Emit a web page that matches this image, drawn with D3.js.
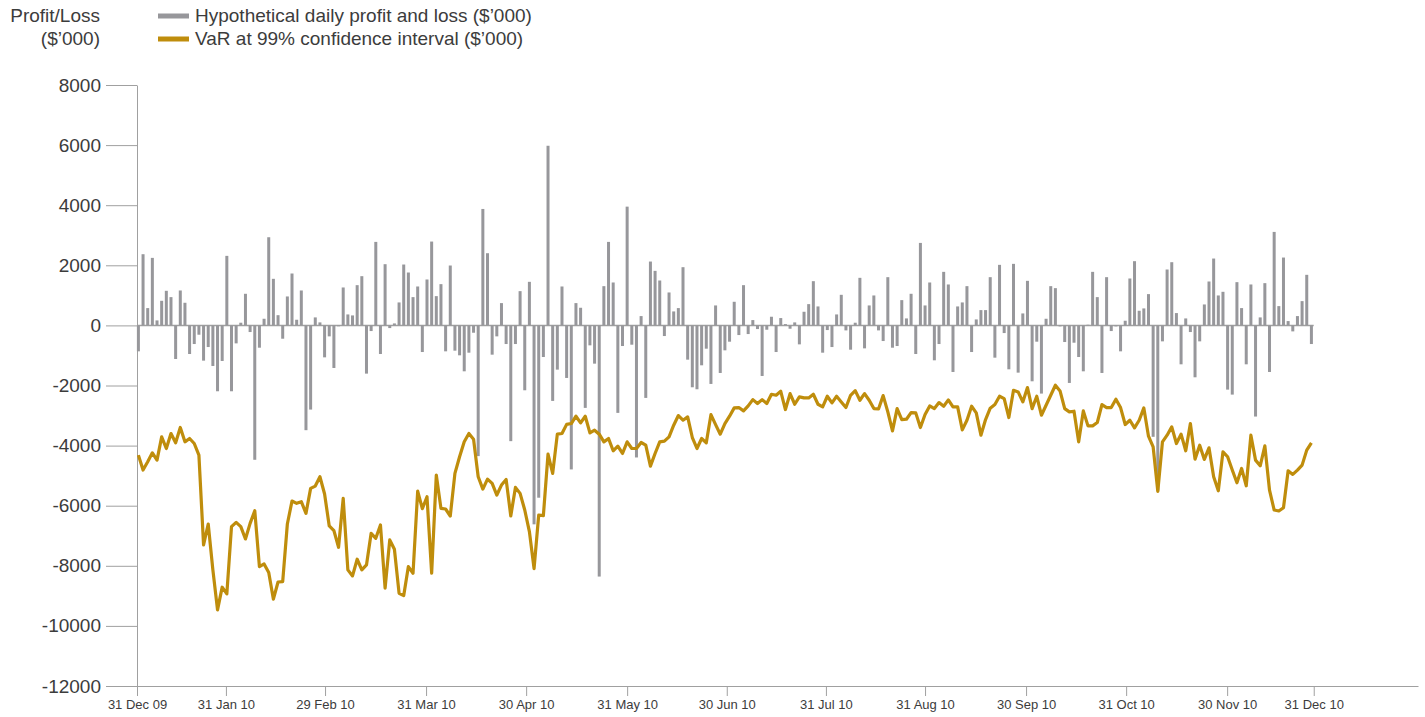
<!DOCTYPE html>
<html>
<head>
<meta charset="utf-8">
<script src="https://cdn.jsdelivr.net/npm/d3@7"></script>
<style>
  body { margin: 0; background: #fff; }
  text { font-family: "Liberation Sans", Arial, sans-serif; }
</style>
</head>
<body>
<div id="chart"></div>
<script>
// daily hypothetical P&L ($'000), one value per trading day
const pnl = [
  -863, 2369, 576, 2247, 166, 819, 1151, 941, -1118, 1162,
  753, -952, -620, -310, -1173, -720, -1350, -2192, -1184, 2314,
  -2192, -598, 89, 1052, -221, -4472, -742, 221, 2934, 1550,
  340, -443, 963, 1727, 188, 1162, -3487, -2801, 266, 100,
  -1063, -365, -1417, -30, 1262, 365, 332, 1339, 1638, -1605,
  -188, 2779, -952, 2037, -89, 66, 764, 2026, 1760, 941,
  1295, -886, 1528, 2790, 974, 1373, -863, 1993, -841, -996,
  -1528, -908, -244, -4350, 3875, 2402, -974, -365, 742, -620,
  -3852, -620, 1140, -2159, 1450, -6620, -5734, -1052, 5978, -2513,
  -1472, 1295, -1749, -4793, 742, 587, -2745, -664, -1273, -8358,
  1306, 2779, 1428, -2911, -686, 3952, -642, -4395, 310, -2413,
  2125, 1815, 1494, -354, 1096, 465, 576, 1937, -1140, -2059,
  -2125, -1328, -775, -1948, 664, -1583, -830, -542, 786, -321,
  1339, -288, 177, -122, -1683, -144, 288, -886, 244, 44,
  -111, 100, -631, 454, 708, 1472, 631, -908, -155, -720,
  365, 1018, -166, -808, 89, 1583, -764, 664, 996, -166,
  -520, 1605, -742, -686, 841, 232, 1052, -952, 2745, 664,
  1428, -1162, -620, 1782, 1362, -1550, 631, 764, 1306, -886,
  199, 509, 509, 1605, -1074, 2015, -255, -1461, 2048, -1572,
  398, 1483, -1860, -542, -2269, 221, 1306, 1240, -33, -553,
  -1915, -576, -1052, -1528, 22, 1782, 941, -1583, 1605, -188,
  -33, -863, 155, 1561, 2137, 487, 565, 1041, -3708, -5500,
  -531, 1860, 2103, 410, -1295, 232, -221, -1727, -531, 697,
  1461, 2225, 996, 1118, -2137, -2303, 1439, 576, -1295, 1362,
  -3033, 266, 1406, -1550, 3111, 642, 2258, 144, -199, 310,
  808, 1683, -620
]

// VaR at 99% ($'000)
const varValues = [
  -4317, -4815, -4539, -4240, -4483, -3708, -4096, -3598, -3908, -3398,
  -3875, -3764, -3930, -4317, -7306, -6609, -8136, -9465, -8712, -8934,
  -6698, -6554, -6698, -7107, -6587, -6166, -8026, -7937, -8225, -9111,
  -8540, -8524, -6609, -5845, -5922, -5867, -6255, -5424, -5347, -5037,
  -5612, -6675, -6830, -7384, -5756, -8136, -8336, -7782, -8136, -7970,
  -6919, -7085, -6642, -8745, -7140, -7450, -8912, -8989, -8026, -8247,
  -5513, -6100, -5701, -8247, -4981, -6089, -6110, -6343, -4926, -4372,
  -3875, -3598, -3786, -5037, -5447, -5114, -5258, -5645, -5314, -5125,
  -6343, -5391, -5590, -6144, -6863, -8092, -6310, -6332, -4284, -4926,
  -3620, -3598, -3294, -3266, -3022, -3244, -3022, -3576, -3487, -3620,
  -3875, -3764, -4173, -4018, -4262, -3875, -4096, -4096, -3897, -3985,
  -4683, -4262, -3875, -3852, -3708, -3321, -3000, -3155, -3044, -3731,
  -4096, -3764, -3908, -2970, -3300, -3620, -3266, -3022, -2745, -2734,
  -2845, -2679, -2469, -2601, -2469, -2601, -2291, -2325, -2192, -2801,
  -2269, -2624, -2380, -2413, -2413, -2291, -2624, -2712, -2358, -2579,
  -2358, -2546, -2734, -2325, -2170, -2491, -2269, -2491, -2768, -2779,
  -2336, -2878, -3509, -2768, -3133, -3122, -2900, -2911, -3398, -2967,
  -2679, -2768, -2568, -2690, -2480, -2712, -2712, -3476, -3155, -2690,
  -2911, -3653, -3133, -2756, -2635, -2358, -2435, -3066, -2159, -2214,
  -2546, -2070, -2768, -2358, -2989, -2657, -2325, -1993, -2181, -2768,
  -2878, -2856, -3875, -2845, -3343, -3343, -3232, -2635, -2734, -2734,
  -2458, -2734, -3299, -3155, -3410, -3155, -2745, -3686, -4040, -5524,
  -3875, -3653, -3376, -3930, -3620, -4173, -3266, -4450, -3985, -4461,
  -4074, -5037, -5502, -4207, -4372, -4815, -5236, -4760, -5336, -3653,
  -4483, -4672, -4007, -5480, -6144, -6177, -6066, -4837, -4959, -4815,
  -4650, -4151, -3908
]

// month-end ticks, placed in trading-day units
const tickLabels = ["31 Dec 09", "31 Jan 10", "29 Feb 10", "31 Mar 10", "30 Apr 10", "31 May 10",
  "30 Jun 10", "31 Jul 10", "31 Aug 10", "30 Sep 10", "31 Oct 10", "30 Nov 10", "31 Dec 10"]
const tickDays = [-0.3, 18.8, 40.1, 61.8, 83.3, 105, 126.4, 147.7, 169, 190.7, 212.2, 233.9, 252.5]
const yTicks = [8000, 6000, 4000, 2000, 0, -2000, -4000, -6000, -8000, -10000, -12000]

const legendLabels = ["Hypothetical daily profit and loss ($\u2019000)", "VaR at 99% confidence interval ($\u2019000)"]

const barColor = "#97979b"
const lineColor = "#bf8d0c"
const axisColor = "#a0a0a0"
const textColor = "#3c3c3c"

const width = 1425
const height = 717
const margin = { top: 85, right: 7, bottom: 31, left: 137 }

const svg = d3.select("#chart")
  .append("svg")
  .attr("width", width)
  .attr("height", height)

const xScale = d3.scaleLinear()
  .domain([-0.3, 274.9])
  .range([margin.left, width - margin.right])

const yScale = d3.scaleLinear()
  .domain([-12000, 8000])
  .range([height - margin.bottom, margin.top])

// y axis (plain hyphen minus like the original)
const yAxisGen = d3.axisLeft(yScale)
  .tickValues(yTicks)
  .tickFormat(d => String(d))
  .tickSize(31)
  .tickSizeOuter(0)
  .tickPadding(5)
const yAxis = svg.append("g")
  .attr("transform", `translate(${margin.left},0)`)
  .call(yAxisGen)
yAxis.select(".domain").attr("stroke", axisColor)
yAxis.selectAll(".tick line").attr("stroke", axisColor)
yAxis.selectAll(".tick text")
  .attr("fill", textColor)
  .style("font-size", "19px")
  .style("font-family", "Liberation Sans, Arial, sans-serif")

// x axis
const xAxisGen = d3.axisBottom(xScale)
  .tickValues(tickDays)
  .tickFormat((d, i) => tickLabels[i])
  .tickSize(10)
  .tickSizeOuter(0)
  .tickPadding(4)
const xAxis = svg.append("g")
  .attr("transform", `translate(0,${yScale(-12000)})`)
  .call(xAxisGen)
xAxis.select(".domain").attr("stroke", axisColor)
xAxis.selectAll(".tick line").attr("stroke", axisColor)
xAxis.selectAll(".tick text")
  .attr("fill", textColor)
  .style("font-size", "13px")
  .style("font-family", "Liberation Sans, Arial, sans-serif")

// zero line
svg.append("line")
  .attr("x1", xScale(-0.3))
  .attr("x2", xScale(pnl.length - 0.5))
  .attr("y1", yScale(0))
  .attr("y2", yScale(0))
  .attr("stroke", axisColor)
  .attr("stroke-width", 1.5)

// bars
svg.append("g")
  .selectAll("rect")
  .data(pnl)
  .join("rect")
  .attr("x", (d, i) => xScale(i) - 1.5)
  .attr("width", 3)
  .attr("y", d => yScale(Math.max(0, d)))
  .attr("height", d => Math.abs(yScale(d) - yScale(0)))
  .attr("fill", barColor)

// VaR line
const lineGen = d3.line()
  .x((d, i) => xScale(i))
  .y(d => yScale(d))
svg.append("path")
  .datum(varValues)
  .attr("d", lineGen)
  .attr("fill", "none")
  .attr("stroke", lineColor)
  .attr("stroke-width", 3.2)
  .attr("stroke-linejoin", "round")

// y title
svg.append("text")
  .attr("x", 100).attr("y", 17)
  .attr("text-anchor", "end").attr("dominant-baseline", "middle")
  .attr("fill", textColor).style("font-size", "19px")
  .text("Profit/Loss")
svg.append("text")
  .attr("x", 100).attr("y", 40)
  .attr("text-anchor", "end").attr("dominant-baseline", "middle")
  .attr("fill", textColor).style("font-size", "19px")
  .text("($\u2019000)")

// legend
const legend = svg.append("g")
legend.selectAll("line")
  .data([barColor, lineColor])
  .join("line")
  .attr("x1", 158).attr("x2", 189)
  .attr("y1", (d, i) => 16 + i * 23)
  .attr("y2", (d, i) => 16 + i * 23)
  .attr("stroke", d => d)
  .attr("stroke-width", 5)
legend.selectAll("text")
  .data(legendLabels)
  .join("text")
  .attr("x", 195)
  .attr("y", (d, i) => 17 + i * 23)
  .attr("dominant-baseline", "middle")
  .attr("fill", textColor)
  .style("font-size", "19px")
  .text(d => d)
</script>
</body>
</html>
